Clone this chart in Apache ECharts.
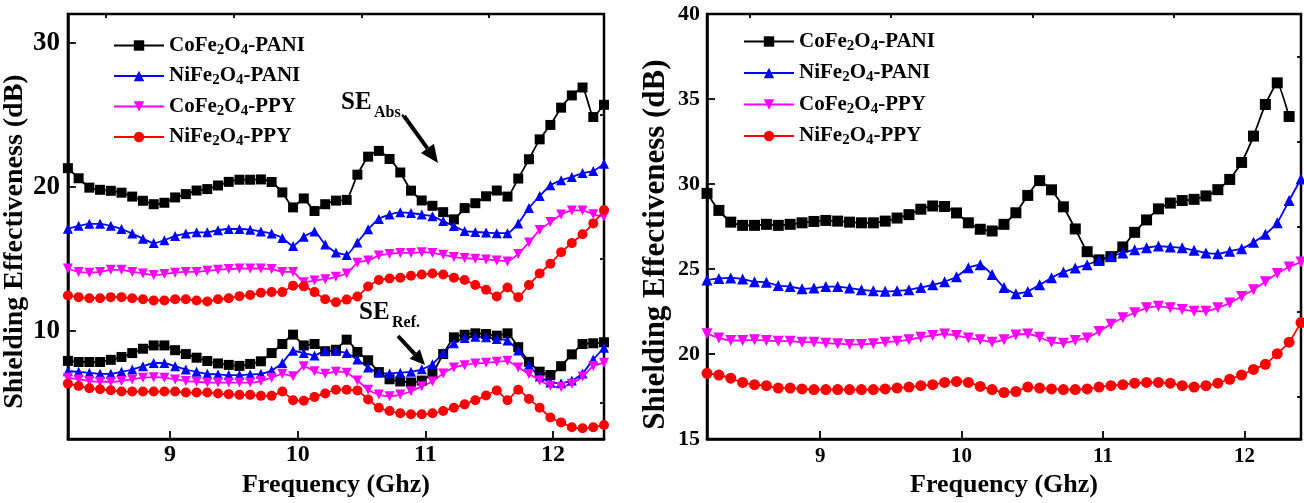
<!DOCTYPE html>
<html>
<head>
<meta charset="utf-8">
<script src="https://cdn.jsdelivr.net/npm/echarts@6/dist/echarts.min.js"></script>
<style>html,body{margin:0;padding:0;background:#fff;}#c{width:1304px;height:503px;}</style>
</head>
<body>
<div id="c"></div>
<script>
// ---------- DATA ----------
const freq = [8.200,8.284,8.368,8.452,8.536,8.620,8.704,8.788,8.872,8.956,9.040,9.124,9.208,9.292,9.376,9.460,9.544,9.628,9.712,9.796,9.880,9.964,10.048,10.132,10.216,10.300,10.384,10.468,10.552,10.636,10.720,10.804,10.888,10.972,11.056,11.140,11.224,11.308,11.392,11.476,11.560,11.644,11.728,11.812,11.896,11.980,12.064,12.148,12.232,12.316,12.400];

const seriesNames = ['CoFe2O4-PANI','NiFe2O4-PANI','CoFe2O4-PPY','NiFe2O4-PPY'];

// Left panel: SE absorption (upper curves)
const absCoPANI = [21.3,20.6,19.95,19.8,19.73,19.6,19.33,19.04,18.8,18.9,19.27,19.5,19.75,19.85,20.1,20.35,20.5,20.5,20.52,20.34,19.62,18.58,19.2,18.33,18.8,19.05,19.1,20.85,22.1,22.5,21.94,21.0,19.74,19.06,18.69,18.25,17.75,18.53,18.87,19.35,19.75,19.33,20.58,21.92,23.3,24.3,25.5,26.35,26.9,24.85,25.7];
const absNiPANI = [17.1,17.3,17.44,17.44,17.3,17.08,16.76,16.4,16.1,16.3,16.6,16.76,16.85,16.85,17.0,17.08,17.08,17.03,16.9,16.76,16.45,15.9,16.55,16.9,16.0,15.45,15.28,16.15,17.06,17.78,18.08,18.24,18.19,18.08,17.97,17.63,17.28,16.94,16.88,16.83,16.79,16.79,17.47,18.53,19.37,20.12,20.46,20.69,20.96,21.1,21.6];
const absCoPPY = [14.34,14.1,14.05,14.1,14.25,14.25,14.1,14.0,13.88,13.95,14.05,14.1,14.1,14.18,14.25,14.3,14.34,14.34,14.34,14.3,14.1,14.1,13.38,13.5,13.6,13.76,13.99,14.74,14.9,15.24,15.35,15.42,15.42,15.47,15.42,15.29,15.13,15.06,15.01,14.97,14.9,14.83,15.35,16.15,17.01,17.56,18.08,18.37,18.37,18.1,17.95];
const absNiPPY = [12.47,12.35,12.28,12.28,12.35,12.35,12.28,12.2,12.12,12.12,12.2,12.2,12.12,12.05,12.2,12.28,12.42,12.5,12.65,12.7,12.7,13.15,13.1,12.7,12.2,12.0,12.18,12.4,13.09,13.54,13.65,13.7,13.83,13.92,13.99,13.92,13.7,13.54,13.2,12.86,12.4,13.02,12.34,13.2,13.99,14.67,15.47,16.1,16.72,17.47,18.4];

// Left panel: SE reflection (lower curves)
const refCoPANI = [7.93,7.85,7.85,7.85,8.0,8.2,8.47,8.77,9.0,9.0,8.67,8.4,8.15,7.92,7.75,7.65,7.58,7.72,7.9,8.47,9.1,9.75,9.0,9.1,8.6,8.7,9.4,8.55,7.97,7.15,6.65,6.5,6.43,6.56,7.06,8.4,9.56,9.74,9.84,9.79,9.68,9.84,8.88,7.86,7.18,6.95,7.56,8.38,9.1,9.15,9.22];
const refNiPANI = [7.21,7.17,7.1,7.03,7.03,7.17,7.33,7.56,7.78,7.78,7.56,7.33,7.17,7.03,6.99,6.94,6.94,6.99,7.03,7.26,7.78,8.63,8.47,8.3,8.63,8.61,8.47,8.02,7.47,7.11,7.06,7.11,7.18,7.34,7.7,8.47,9.15,9.52,9.61,9.56,9.45,9.34,8.65,7.63,6.84,6.43,6.38,6.56,7.06,8.02,8.84];
const refCoPPY = [6.76,6.64,6.53,6.48,6.48,6.53,6.64,6.76,6.8,6.76,6.64,6.53,6.48,6.42,6.42,6.42,6.42,6.42,6.53,6.76,7.03,6.87,7.56,7.21,7.03,7.18,7.11,6.57,5.93,5.59,5.48,5.59,5.82,6.16,6.5,7.06,7.47,7.63,7.75,7.79,7.86,7.93,7.47,7.02,6.57,6.2,6.11,6.34,6.84,7.57,7.79];
const refNiPPY = [6.35,6.19,6.03,5.96,5.89,5.8,5.8,5.8,5.8,5.8,5.8,5.73,5.73,5.73,5.66,5.62,5.57,5.57,5.5,5.5,5.8,5.2,5.16,5.43,5.66,5.93,5.93,5.88,5.25,4.68,4.45,4.29,4.23,4.23,4.29,4.45,4.68,4.91,5.2,5.52,5.88,5.2,5.93,5.29,4.68,4.0,3.66,3.32,3.25,3.32,3.48];

// Right panel: total SE
const totCoPANI = [29.45,28.45,27.76,27.57,27.57,27.63,27.57,27.63,27.72,27.8,27.86,27.82,27.76,27.72,27.72,27.82,28.0,28.2,28.52,28.71,28.68,28.3,27.72,27.34,27.24,27.63,28.31,29.33,30.2,29.66,28.66,27.36,26.02,25.54,25.73,26.3,27.16,27.89,28.54,28.88,29.03,29.1,29.3,29.67,30.27,31.27,32.82,34.68,35.95,33.97];
const totNiPANI = [24.35,24.45,24.48,24.41,24.26,24.22,24.03,23.97,23.84,23.88,23.97,23.97,23.88,23.78,23.72,23.69,23.72,23.78,23.92,24.07,24.26,24.55,25.07,25.26,24.68,23.92,23.55,23.68,24.07,24.49,24.83,25.06,25.26,25.51,25.76,25.95,26.14,26.25,26.35,26.3,26.25,26.1,25.95,25.9,26.05,26.2,26.57,27.05,27.72,29.03,30.3];
const totCoPPY = [21.2,20.95,20.8,20.8,20.84,20.8,20.76,20.76,20.7,20.7,20.64,20.61,20.57,20.57,20.61,20.7,20.76,20.84,20.99,21.09,21.18,21.09,20.95,20.84,20.7,20.85,21.12,21.18,20.99,20.7,20.64,20.8,20.95,21.33,21.76,22.14,22.43,22.72,22.81,22.72,22.62,22.52,22.52,22.72,23.0,23.39,23.78,24.26,24.74,25.12,25.41];
const totNiPPY = [18.87,18.77,18.58,18.33,18.2,18.14,18.0,18.0,17.95,17.91,17.91,17.91,17.91,17.91,17.91,17.95,18.0,18.06,18.14,18.2,18.33,18.39,18.33,18.1,17.91,17.74,17.8,18.06,18.0,17.95,17.91,17.91,17.95,18.06,18.14,18.2,18.29,18.33,18.33,18.29,18.14,18.06,18.14,18.29,18.52,18.77,19.1,19.4,20.02,20.7,21.85];

// Tick values
const xMajorTicks = [9, 10, 11, 12];
const xMinorTicks = [8.5, 9.5, 10.5, 11.5];
const yLeftMajor = [10, 20, 30];
const yLeftMinor = [5, 15, 25];
const yRightMajor = [15, 20, 25, 30, 35, 40];
const yRightMinor = [17.5, 22.5, 27.5, 32.5, 37.5];

// ---------- CHART ----------
const serif = '"Liberation Serif", "Times New Roman", serif';
const colors = ['#000000', '#0000ff', '#ff00ff', '#ff0000'];
const symbols = ['rect', 'triangle', 'triangle', 'circle'];
const rotates = [0, 0, 180, 0];

function pairs(vals) { return vals.map((v, i) => [freq[i], v]); }

function majorAxis(grid, min, max, ticks, fontSize, margin, extra) {
  return Object.assign({
    type: 'value', gridIndex: grid, min: min, max: max,
    axisLine: { show: true, onZero: false, lineStyle: { color: '#000', width: 2.5 } },
    axisTick: { show: true, inside: true, length: 8, customValues: ticks, lineStyle: { color: '#000', width: 1.8 } },
    axisLabel: { show: true, customValues: ticks, color: '#000', fontFamily: serif, fontWeight: 'bold', fontSize: fontSize, margin: margin },
    splitLine: { show: false }
  }, extra || {});
}
function minorAxis(grid, min, max, ticks) {
  return {
    type: 'value', gridIndex: grid, min: min, max: max,
    axisLine: { show: false, onZero: false },
    axisTick: { show: true, inside: true, length: 4, customValues: ticks, lineStyle: { color: '#000', width: 1.8 } },
    axisLabel: { show: false },
    splitLine: { show: false }
  };
}
const xName = (gap) => ({ name: 'Frequency (Ghz)', nameLocation: 'middle', nameGap: gap,
  nameTextStyle: { color: '#000', fontFamily: serif, fontWeight: 'bold', fontSize: 26 } });
const yName = (gap, size, shift) => ({ name: 'Shielding Effectiveness (dB)', nameLocation: 'middle', nameGap: gap,
  nameTextStyle: { color: '#000', fontFamily: serif, fontWeight: 'bold', fontSize: size, padding: [0, shift, 0, 0] } });

const series = [];
function addSeries(vals, k, xi, yi, size) {
  series.push({
    type: 'line', name: seriesNames[k], xAxisIndex: xi, yAxisIndex: yi,
    data: pairs(vals), symbol: symbols[k], symbolRotate: rotates[k], symbolSize: size,
    smooth: 0.15, lineStyle: { color: colors[k], width: 1.8 }, itemStyle: { color: colors[k] },
    emphasis: { disabled: true }, animation: false, clip: true
  });
}
[absCoPANI, absNiPANI, absCoPPY, absNiPPY].forEach((v, k) => addSeries(v, k, 0, 0, 10));
[refCoPANI, refNiPANI, refCoPPY, refNiPPY].forEach((v, k) => addSeries(v, k, 0, 0, 10));
[totCoPANI, totNiPANI, totCoPPY, totNiPPY].forEach((v, k) => addSeries(v, k, 2, 2, 11));

function legendFmt(name) { return '{m|' + name.replace(/(\d)/g, '}{s|$1}{m|') + '}'; }
function legend(left, top, gap) {
  return {
    orient: 'vertical', left: left, top: top, itemWidth: 50, itemHeight: 13, itemGap: gap,
    data: seriesNames, formatter: legendFmt, selectedMode: false,
    textStyle: { color: '#000', rich: {
      m: { fontFamily: serif, fontWeight: 'bold', fontSize: 21, color: '#000', lineHeight: 24 },
      s: { fontFamily: serif, fontWeight: 'bold', fontSize: 15, color: '#000', lineHeight: 11, verticalAlign: 'bottom' }
    } }
  };
}

function arrow(x1, y1, x2, y2, headLen, headHalf, w) {
  const dx = x2 - x1, dy = y2 - y1, L = Math.hypot(dx, dy);
  const ux = dx / L, uy = dy / L, nx = -uy, ny = ux;
  const bx = x2 - headLen * ux, by = y2 - headLen * uy;
  return [
    { type: 'line', shape: { x1: x1, y1: y1, x2: bx, y2: by }, style: { stroke: '#000', lineWidth: w } },
    { type: 'polygon', shape: { points: [[x2, y2], [bx + headHalf * nx, by + headHalf * ny], [bx - headHalf * nx, by - headHalf * ny]] }, style: { fill: '#000' } }
  ];
}
const txt = (t, x, y, size) => ({ type: 'text', style: { text: t, x: x, y: y, fill: '#000',
  font: 'bold ' + size + 'px ' + serif, textVerticalAlign: 'middle', textAlign: 'left' } });

const option = {
  backgroundColor: '#fff',
  animation: false,
  grid: [
    { left: 66, top: 14, width: 538, height: 433, show: true, borderColor: '#000', borderWidth: 2.5, containLabel: false },
    { left: 707, top: 14, width: 594, height: 433, show: true, borderColor: '#000', borderWidth: 2.5, containLabel: false }
  ],
  xAxis: [
    majorAxis(0, 8.2, 12.4, xMajorTicks, 24, 4, xName(29)),
    minorAxis(0, 8.2, 12.4, xMinorTicks),
    majorAxis(1, 8.2, 12.4, xMajorTicks, 21, 7, xName(29)),
    minorAxis(1, 8.2, 12.4, xMinorTicks)
  ],
  yAxis: [
    majorAxis(0, 2.5, 32, yLeftMajor, 27, 8, yName(35, 28, 30)),
    minorAxis(0, 2.5, 32, yLeftMinor),
    majorAxis(1, 15, 40, yRightMajor, 22, 7, yName(36, 31, 36)),
    minorAxis(1, 15, 40, yRightMinor)
  ],
  legend: [legend(108, 30, 8), legend(738, 26, 9)],
  series: series,
  graphic: [].concat(
    [txt('SE', 341, 103, 25), txt('Abs.', 374, 113, 16)],
    arrow(404, 116, 438, 163, 18, 8, 4),
    [txt('SE', 359, 313, 25), txt('Ref.', 392, 323, 16)],
    arrow(398, 336, 425, 365, 15, 7, 4)
  )
};

const chart = echarts.init(document.getElementById('c'), null, { renderer: 'canvas' });
chart.setOption(option);
</script>
</body>
</html>
